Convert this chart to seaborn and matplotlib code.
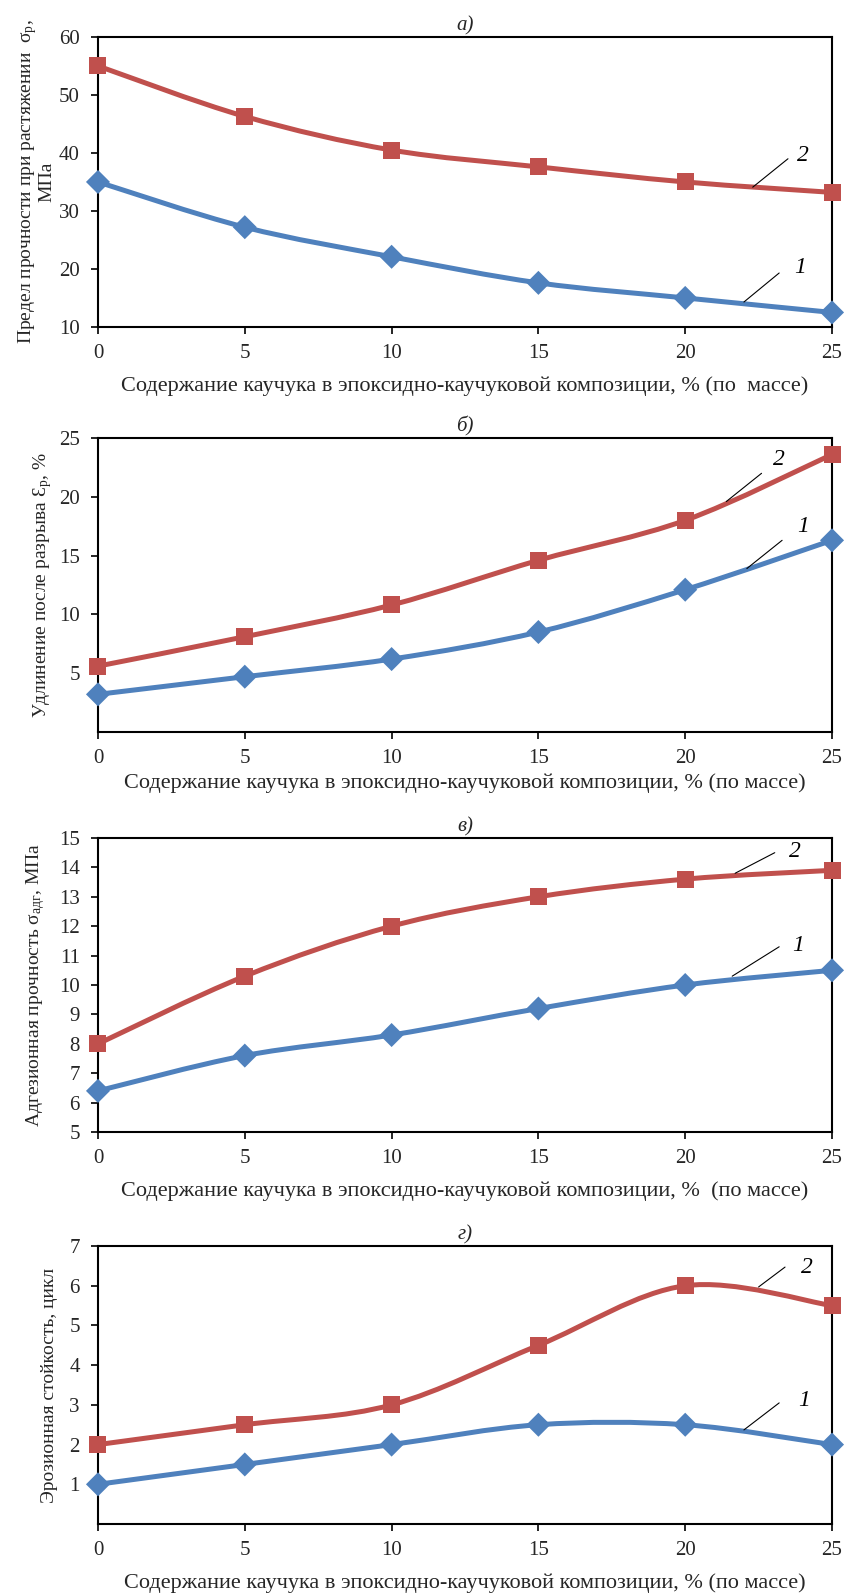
import numpy as np
import pandas as pd
import seaborn as sns
import matplotlib.pyplot as plt
from matplotlib.path import Path
from matplotlib.patches import PathPatch

# x values: rubber content, % by mass
content = [0, 5, 10, 15, 20, 25]

# panel a) tensile strength, MPa
strength_1 = [35.0, 27.2, 22.1, 17.6, 15.0, 12.5]
strength_2 = [55.0, 46.3, 40.5, 37.6, 35.0, 33.2]

# panel б) elongation at break, %
elong_1 = [3.2, 4.7, 6.2, 8.5, 12.1, 16.3]
elong_2 = [5.6, 8.1, 10.8, 14.6, 18.0, 23.6]

# panel в) adhesion strength, MPa
adhes_1 = [6.4, 7.6, 8.3, 9.2, 10.0, 10.5]
adhes_2 = [8.0, 10.3, 12.0, 13.0, 13.6, 13.9]

# panel г) erosion resistance, cycles
erosion_1 = [1.0, 1.5, 2.0, 2.5, 2.5, 2.0]
erosion_2 = [2.0, 2.5, 3.0, 4.5, 6.0, 5.5]

xlabel = 'Содержание каучука в эпоксидно-каучуковой композиции, % (по  массе)'
xlabel2 = 'Содержание каучука в эпоксидно-каучуковой композиции, % (по массе)'
xlabel3 = 'Содержание каучука в эпоксидно-каучуковой композиции, %  (по массе)'

BLUE = '#4F81BD'
RED = '#C0504D'

sns.set_theme(style='white')
plt.rcParams['font.family'] = ['Liberation Serif', 'DejaVu Serif']
plt.rcParams['mathtext.fontset'] = 'custom'
plt.rcParams['mathtext.rm'] = 'Liberation Serif'
plt.rcParams['mathtext.it'] = 'Liberation Serif:italic'


def smooth_path(xs, ys):
    # Excel-style smoothed line: cubic Bezier segments through the points
    pts = np.column_stack([xs, ys]).astype(float)
    n = len(pts)
    verts = [pts[0]]
    codes = [Path.MOVETO]
    for i in range(n - 1):
        p0 = pts[i - 1] if i > 0 else pts[i]
        p1 = pts[i]
        p2 = pts[i + 1]
        p3 = pts[i + 2] if i + 2 < n else pts[i + 1]
        c1 = p1 + (p2 - p0) / 6.0
        c2 = p2 - (p3 - p1) / 6.0
        verts += [c1, c2, p2]
        codes += [Path.CURVE4] * 3
    return Path(verts, codes)


def draw_panel(ax, y1, y2, title, ylabel, ylim, yticks, lab2, lab1, xlab, xpad, ylx):
    df = pd.DataFrame({'x': content * 2,
                       'y': list(y1) + list(y2),
                       'series': ['1'] * 6 + ['2'] * 6})
    for ys, col in [(y1, BLUE), (y2, RED)]:
        ax.add_patch(PathPatch(smooth_path(content, ys), fill=False,
                               edgecolor=col, lw=3.6, capstyle='round',
                               joinstyle='round', zorder=2))
    sns.scatterplot(data=df, x='x', y='y', hue='series', style='series',
                    palette={'1': BLUE, '2': RED},
                    markers={'1': 'D', '2': 's'},
                    s=150, edgecolor=None, linewidth=0, legend=False,
                    ax=ax, zorder=3, clip_on=False)
    ax.set_xlim(0, 25)
    ax.set_ylim(*ylim)
    ax.set_xticks(content)
    ax.set_yticks(yticks)
    ax.tick_params(axis='both', labelsize=15, direction='out', length=5,
                   width=1.2, color='black', bottom=True, left=True)
    ax.tick_params(axis='x', pad=7)
    ax.tick_params(axis='y', pad=8)
    for sp in ax.spines.values():
        sp.set_visible(True)
        sp.set_color('black')
        sp.set_linewidth(1.5)
    ax.set_title(title, fontsize=15, style='italic', pad=5)
    ax.set_xlabel(xlab, fontsize=16, labelpad=xpad)
    ax.set_ylabel(ylabel, fontsize=14, linespacing=0.95)
    ax.yaxis.set_label_coords(ylx, 0.5)

    # curve numbers with leader lines
    for (tx, ty, lx0, ly0, lx1, ly1, txt) in [lab2, lab1]:
        ax.plot([lx0, lx1], [ly0, ly1], color='black', lw=0.8, zorder=4)
        ax.text(tx, ty, txt, fontsize=17, style='italic', ha='left',
                va='center', color='black')


fig = plt.figure(figsize=(8.44, 15.94), dpi=100)
left, width = 0.1161, 0.8697

ax_a = fig.add_axes([left, 0.7949, width, 0.1819])
draw_panel(ax_a, strength_1, strength_2, 'а)',
           'Предел прочности при растяжении  σ$_{\\mathrm{р}}$,\nМПа',
           (10, 60), [10, 20, 30, 40, 50, 60],
           (23.8, 39.6, 23.5, 39.0, 22.3, 34.1, '2'),
           (23.7, 20.2, 23.2, 19.3, 22.0, 14.3, '1'),
           xlabel, 10, -0.058)

ax_b = fig.add_axes([left, 0.5408, width, 0.1844])
draw_panel(ax_b, elong_1, elong_2, 'б)',
           'Удлинение после разрыва Ɛ$_{\\mathrm{р}}$, %',
           (0, 25), [5, 10, 15, 20, 25],
           (23.0, 23.2, 22.6, 22.0, 21.4, 19.6, '2'),
           (23.8, 17.5, 23.3, 16.3, 22.1, 13.9, '1'),
           xlabel2, 4, -0.06)

ax_c = fig.add_axes([left, 0.2898, width, 0.1845])
draw_panel(ax_c, adhes_1, adhes_2, 'в)',
           'Адгезионная прочность σ$_{\\mathrm{адг}}$, МПа',
           (5, 15), list(range(5, 16)),
           (23.55, 14.55, 23.05, 14.5, 21.7, 13.8, '2'),
           (23.65, 11.35, 23.2, 11.3, 21.6, 10.3, '1'),
           xlabel3, 10, -0.07)

ax_d = fig.add_axes([left, 0.0439, width, 0.1744])
draw_panel(ax_d, erosion_1, erosion_2, 'г)',
           'Эрозионная стойкость, цикл',
           (0, 7), [1, 2, 3, 4, 5, 6, 7],
           (23.95, 6.45, 23.4, 6.47, 22.5, 5.97, '2'),
           (23.85, 3.12, 23.2, 3.05, 22.0, 2.37, '1'),
           xlabel2, 10, -0.054)

fig.savefig('out.png', dpi=100)
